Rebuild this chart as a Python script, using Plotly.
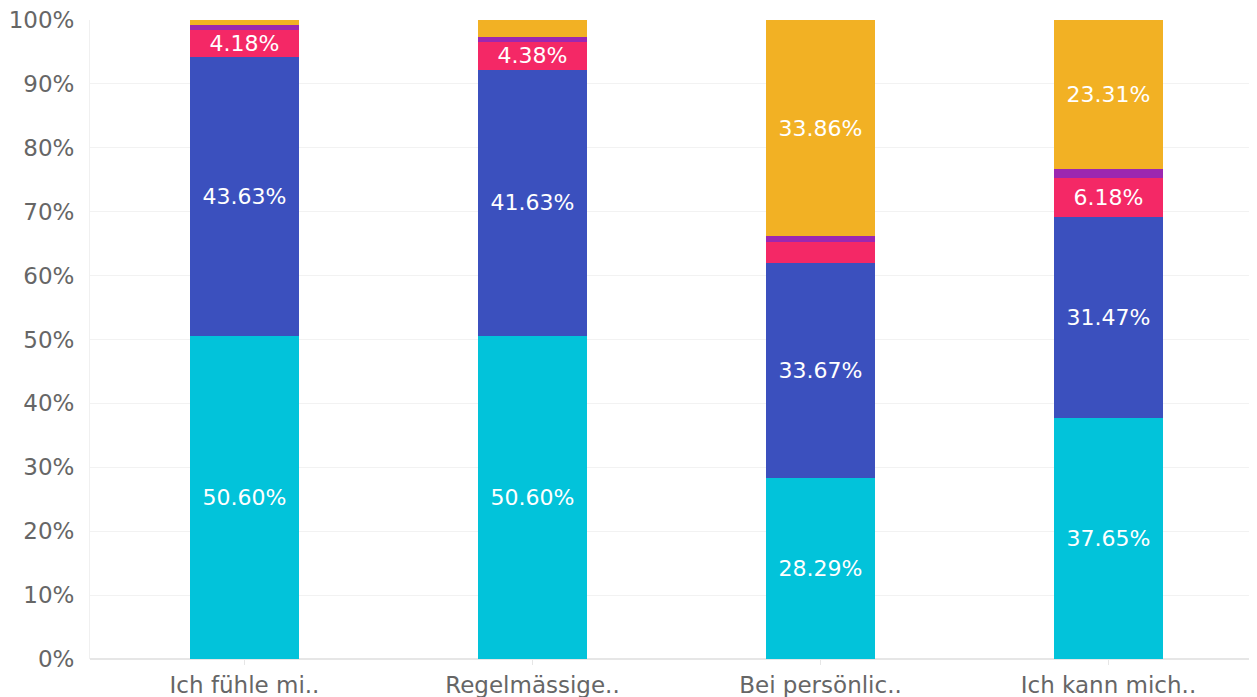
import plotly.graph_objects as go

categories = ["Ich fühle mi..", "Regelmässige..", "Bei persönlic..", "Ich kann mich.."]

cyan_vals = [50.60, 50.60, 28.29, 37.65]
blue_vals = [43.63, 41.63, 33.67, 31.47]
pink_vals = [4.18, 4.38, 3.24, 6.18]
purple_vals = [0.80, 0.72, 0.94, 1.39]
yellow_vals = [0.79, 2.67, 33.86, 23.31]

series = [
    ("A", cyan_vals, "#02C3DA"),
    ("B", blue_vals, "#3B50BE"),
    ("C", pink_vals, "#F42866"),
    ("D", purple_vals, "#9C27B0"),
    ("E", yellow_vals, "#F2B124"),
]

fig = go.Figure()
for name, vals, col in series:
    labels = [f"{v:.2f}%" if v >= 4 else "" for v in vals]
    fig.add_trace(go.Bar(
        x=categories, y=vals, name=name, marker=dict(color=col, line=dict(width=0)),
        text=labels, textposition="inside", insidetextanchor="middle",
        constraintext="none",
        textfont=dict(color="white", size=22, family="DejaVu Sans"),
        width=0.378, hoverinfo="skip",
    ))

# page body adds 8px, so margins are 8px smaller than the visible offsets
fig.update_layout(
    barmode="stack",
    width=1257, height=697,
    margin=dict(l=82, r=0, t=12, b=46),
    plot_bgcolor="white", paper_bgcolor="white",
    showlegend=False,
    font=dict(family="DejaVu Sans", color="#666666"),
)
fig.update_xaxes(
    range=[-0.5365, 3.5434], showgrid=False, showline=False, automargin=False,
    ticks="outside", ticklen=5, tickcolor="#e6e6e6",
    tickfont=dict(size=23, color="#666666"),
)
fig.update_yaxes(
    range=[0, 100], dtick=10, ticksuffix="%", showgrid=True, gridcolor="#f2f2f2",
    zeroline=True, zerolinecolor="#e6e6e6", showline=True, linecolor="#f0f0f0",
    automargin=False, ticklabeloverflow="allow", ticklabelstandoff=10,
    tickfont=dict(size=23, color="#666666"),
)

fig.write_html("out.html")
